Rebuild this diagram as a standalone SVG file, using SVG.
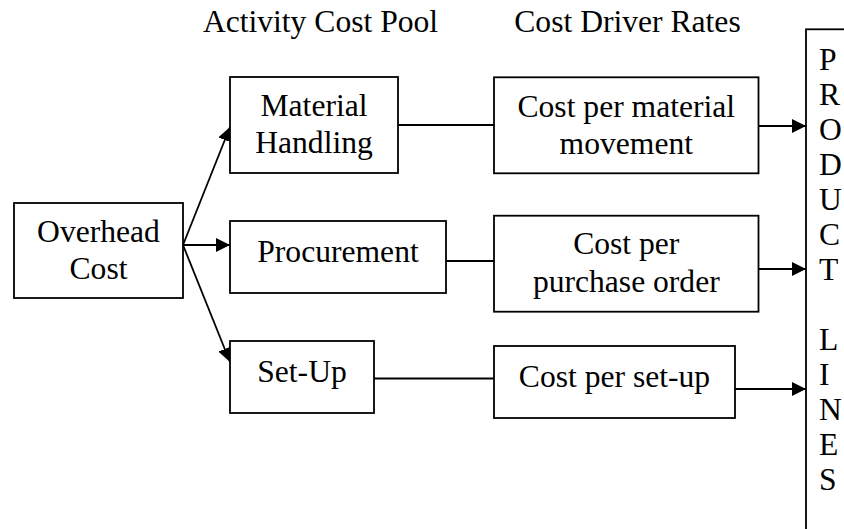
<svg xmlns="http://www.w3.org/2000/svg" width="844" height="529" viewBox="0 0 844 529">
  <style>
    .box { fill: #ffffff; stroke: #000000; stroke-width: 1.8; }
    .line { fill: none; stroke: #000000; stroke-width: 1.8; }
    text { font-family: "Liberation Serif", "Times New Roman", serif; font-size: 31.6px; fill: #000000; }
    .c { text-anchor: middle; }
  </style>
  <defs>
    <marker id="arrow" markerUnits="userSpaceOnUse" markerWidth="15" markerHeight="15" refX="14" refY="7" orient="auto">
      <path d="M0,0 L14,7 L0,14 z" fill="#000000"/>
    </marker>
  </defs>

  <!-- column headings -->
  <g id="headings">
    <text class="c" x="320.5" y="31.7">Activity Cost Pool</text>
    <text class="c" x="627.5" y="32">Cost Driver Rates</text>
  </g>

  <!-- connectors -->
  <g id="connectors">
    <line class="line" x1="183" y1="245" x2="230" y2="127" marker-end="url(#arrow)"/>
    <line class="line" x1="183" y1="245" x2="230" y2="245" marker-end="url(#arrow)"/>
    <line class="line" x1="183" y1="245" x2="230" y2="362" marker-end="url(#arrow)"/>
    <line class="line" x1="398" y1="125" x2="494" y2="125"/>
    <line class="line" x1="446" y1="261" x2="494" y2="261"/>
    <line class="line" x1="374" y1="378.5" x2="494" y2="378.5"/>
    <line class="line" x1="758.5" y1="126" x2="806" y2="126" marker-end="url(#arrow)"/>
    <line class="line" x1="758.5" y1="269" x2="806" y2="269" marker-end="url(#arrow)"/>
    <line class="line" x1="735" y1="389" x2="806" y2="389" marker-end="url(#arrow)"/>
  </g>

  <g id="overhead">
    <rect class="box" x="14" y="203" width="169" height="95"/>
    <text class="c" x="98.5" y="241.7">Overhead</text>
    <text class="c" x="98.5" y="279.3">Cost</text>
  </g>

  <g id="material-handling">
    <rect class="box" x="230" y="77" width="168" height="96"/>
    <text class="c" x="314" y="116">Material</text>
    <text class="c" x="314" y="153">Handling</text>
  </g>

  <g id="procurement">
    <rect class="box" x="230" y="221" width="216" height="72"/>
    <text class="c" x="338" y="261.7">Procurement</text>
  </g>

  <g id="set-up">
    <rect class="box" x="230" y="341" width="144" height="72"/>
    <text class="c" x="302" y="381.7">Set-Up</text>
  </g>

  <g id="rate-material">
    <rect class="box" x="494" y="77.3" width="264.5" height="96"/>
    <text class="c" x="626.3" y="117.3">Cost per material</text>
    <text class="c" x="626.3" y="154.3">movement</text>
  </g>

  <g id="rate-purchase">
    <rect class="box" x="494" y="215.7" width="264.5" height="96"/>
    <text class="c" x="626.3" y="254.3">Cost per</text>
    <text class="c" x="626.3" y="291.7">purchase order</text>
  </g>

  <g id="rate-setup">
    <rect class="box" x="494" y="346" width="241" height="72"/>
    <text class="c" x="614.5" y="387">Cost per set-up</text>
  </g>

  <g id="product-lines">
    <rect class="box" x="806" y="29.3" width="80" height="520"/>
    <text x="819" y="69.5">P</text>
    <text x="819" y="104.5">R</text>
    <text x="819" y="139.5">O</text>
    <text x="819" y="174.5">D</text>
    <text x="819" y="209.5">U</text>
    <text x="819" y="244.5">C</text>
    <text x="819" y="279.5">T</text>
    <text x="819" y="349.5">L</text>
    <text x="819" y="384.5">I</text>
    <text x="819" y="419.5">N</text>
    <text x="819" y="454.5">E</text>
    <text x="819" y="489.5">S</text>
  </g>
</svg>
